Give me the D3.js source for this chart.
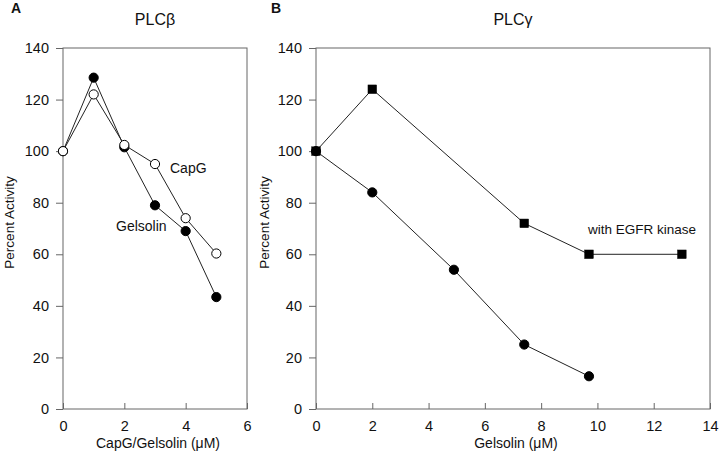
<!DOCTYPE html>
<html><head><meta charset="utf-8">
<script src="https://cdn.jsdelivr.net/npm/d3@7"></script>
<style>
body{margin:0;background:#fff;}
text{font-family:"Liberation Sans",Arial,Helvetica,sans-serif;fill:#111;}
</style></head>
<body><svg id="c" width="720" height="456"></svg>
<script>
// Panel A data (PLCβ)
const xA = [0, 1, 2, 3, 4, 5];
const gelsolinA = [100, 128.5, 101.5, 79, 69, 43.4];
const capgA = [100, 122, 102.4, 95, 74, 60.3];
const xTicksA = [0, 2, 4, 6];
// Panel B data (PLCγ)
const xEgfr = [0, 2, 7.4, 9.7, 13];
const egfrB = [100, 124, 72, 60, 60];
const xPlain = [0, 2, 4.9, 7.4, 9.7];
const plainB = [100, 84, 54, 25, 12.7];
const xTicksB = [0, 2, 4, 6, 8, 10, 12, 14];
const yTicks = [0, 20, 40, 60, 80, 100, 120, 140];

const svg = d3.select("#c");
const plotTop = 48, plotBottom = 409;
const FS = 13.5, TFS = 14.5;

function panel(x0, x1, xmax, xTicks, title, letter, letterX, xTitle, yTitleX) {
  const x = d3.scaleLinear().domain([0, xmax]).range([x0, x1]);
  const y = d3.scaleLinear().domain([0, 140]).range([plotBottom, plotTop]);
  const g = svg.append("g");
  g.append("rect").attr("x", x0).attr("y", plotTop).attr("width", x1 - x0).attr("height", plotBottom - plotTop)
    .attr("fill", "none").attr("stroke", "#666").attr("stroke-width", 1);
  const ya = g.append("g").attr("transform", `translate(${x0},0)`)
    .call(d3.axisLeft(y).tickValues(yTicks).tickFormat(d3.format("d")).tickSize(7).tickPadding(7).tickSizeOuter(0));
  ya.select(".domain").remove();
  ya.selectAll("line").attr("stroke", "#666");
  ya.selectAll("text").attr("font-size", TFS).attr("fill", "#111");
  const xa = g.append("g").attr("transform", `translate(0,${plotBottom})`)
    .call(d3.axisBottom(x).tickValues(xTicks).tickFormat(d3.format("d")).tickSize(-6).tickPadding(12).tickSizeOuter(0));
  xa.select(".domain").remove();
  xa.selectAll("line").attr("stroke", "#666");
  xa.selectAll("text").attr("font-size", TFS).attr("fill", "#111");
  g.append("text").attr("x", (x0 + x1) / 2).attr("y", 25).attr("text-anchor", "middle")
    .attr("font-size", 16).text(title);
  g.append("text").attr("x", letterX).attr("y", 13).attr("font-size", 14).attr("font-weight", "bold").text(letter);
  g.append("text").attr("x", (x0 + x1) / 2 + 3).attr("y", 448).attr("text-anchor", "middle")
    .attr("font-size", 14).text(xTitle);
  g.append("text").attr("transform", `translate(${yTitleX},${(plotTop + plotBottom) / 2 - 6}) rotate(-90)`)
    .attr("text-anchor", "middle").attr("font-size", FS).text("Percent Activity");
  return {x, y, g};
}

function series(p, xs, ys, shape, fill) {
  const pts = xs.map((d, i) => [d, ys[i]]);
  const line = d3.line().x(d => p.x(d[0])).y(d => p.y(d[1]));
  p.g.append("path").attr("d", line(pts)).attr("fill", "none").attr("stroke", "#222").attr("stroke-width", 1);
  if (shape === "circle") {
    p.g.selectAll(null).data(pts).enter().append("circle")
      .attr("cx", d => p.x(d[0])).attr("cy", d => p.y(d[1])).attr("r", 4.6)
      .attr("fill", fill).attr("stroke", "#000").attr("stroke-width", 1);
  } else {
    p.g.selectAll(null).data(pts).enter().append("rect")
      .attr("x", d => p.x(d[0]) - 4.3).attr("y", d => p.y(d[1]) - 4.3).attr("width", 8.6).attr("height", 8.6)
      .attr("fill", fill).attr("stroke", "#000").attr("stroke-width", 0.5);
  }
}

const A = panel(63, 247, 6, xTicksA, "PLCβ", "A", 11, "CapG/Gelsolin (μM)", 14);
series(A, xA, gelsolinA, "circle", "#000");
series(A, xA, capgA, "circle", "#fff");
A.g.append("text").attr("x", 170).attr("y", 173).attr("font-size", 14).text("CapG");
A.g.append("text").attr("x", 116).attr("y", 231).attr("font-size", 14).text("Gelsolin");

const B = panel(316, 710, 14, xTicksB, "PLCγ", "B", 271, "Gelsolin (μM)", 269);
series(B, xEgfr, egfrB, "square", "#000");
series(B, xPlain, plainB, "circle", "#000");
B.g.append("text").attr("x", 588).attr("y", 234).attr("font-size", FS).text("with EGFR kinase");
</script></body></html>
